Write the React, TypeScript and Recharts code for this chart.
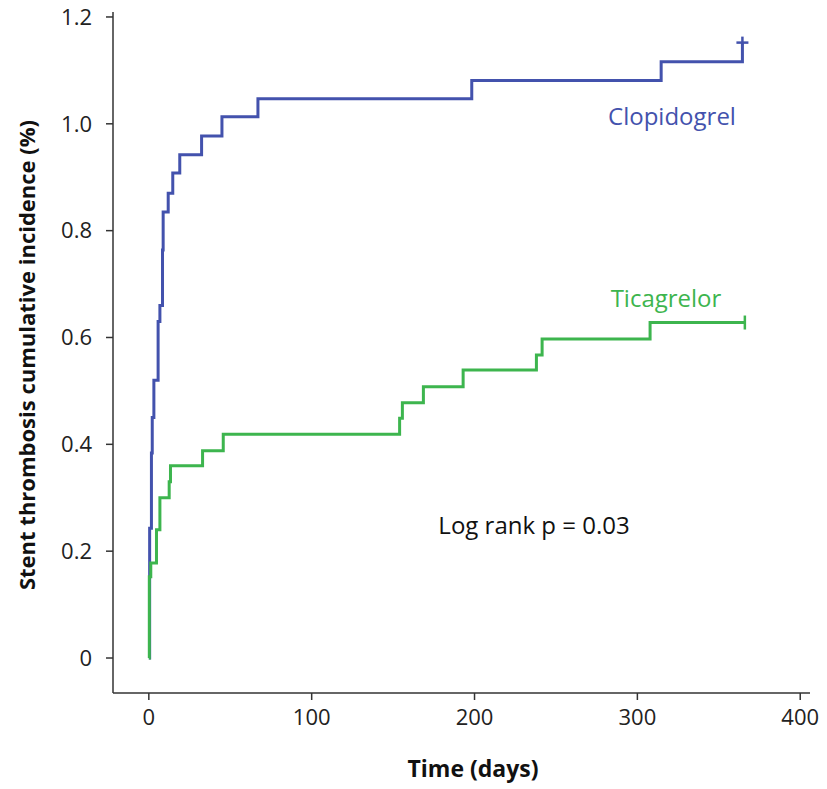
import React from "react";
import { ComposedChart, Line, XAxis, YAxis } from "recharts";

// Kaplan-Meier style cumulative incidence (days, %)
const clopidogrelDays = [0, 0.5, 1.6, 2.1, 3.1, 5.7, 6.8, 8.4, 8.8, 11.9, 14.7, 19, 32.4, 44.9, 67, 198.3, 314.6, 364.5];
const clopidogrelValues = [0, 0.243, 0.384, 0.45, 0.52, 0.63, 0.66, 0.764, 0.835, 0.87, 0.908, 0.942, 0.977, 1.013, 1.047, 1.081, 1.116, 1.152];

const ticagrelorDays = [0, 0.3, 1.2, 4.7, 6.8, 12.5, 13.3, 33, 45.7, 154, 155.7, 168.6, 193, 238, 241.5, 307.8, 366];
const ticagrelorValues = [0, 0.152, 0.178, 0.24, 0.3, 0.33, 0.36, 0.388, 0.419, 0.449, 0.478, 0.508, 0.539, 0.567, 0.597, 0.628, 0.628];

const xTicks = [0, 100, 200, 300, 400];
const yTicks = [0, 0.2, 0.4, 0.6, 0.8, 1.0, 1.2];

const BLUE = "#4352ad";
const GREEN = "#3db54e";
const AXIS = "#333333";
const FONT = "'Open Sans', 'Noto Sans', sans-serif";

const toRows = (days: number[], values: number[]) =>
  days.map((d, i) => ({ day: d, value: values[i] }));

const clopidogrelData = toRows(clopidogrelDays, clopidogrelValues);
const ticagrelorData = toRows(ticagrelorDays, ticagrelorValues);

function censorDot(lastIndex: number, color: string, onTop: boolean) {
  return (props: any) => {
    const { cx, cy, index } = props;
    if (index !== lastIndex || cx == null || cy == null) {
      return <g key={`d-${index}`} />;
    }
    if (onTop) {
      return (
        <g key={`d-${index}`} stroke={color} strokeWidth={2.5}>
          <line x1={cx} y1={cy - 6} x2={cx} y2={cy + 2} />
          <line x1={cx - 6} y1={cy} x2={cx + 6} y2={cy} />
        </g>
      );
    }
    return (
      <g key={`d-${index}`} stroke={color} strokeWidth={2.5}>
        <line x1={cx} y1={cy - 7} x2={cx} y2={cy + 7} />
      </g>
    );
  };
}

const tickStyle = { fontSize: 22, fill: "#222", fontFamily: FONT };

export default function App() {
  return (
    <div style={{ position: "absolute", left: 0, top: 0, width: 827, height: 789, background: "#fff" }}>
      <ComposedChart
        width={827}
        height={789}
        margin={{ top: 12, right: 17, bottom: 0, left: 0 }}
      >
        <XAxis
          type="number"
          dataKey="day"
          domain={[-22, 406]}
          ticks={xTicks}
          allowDataOverflow
          height={96}
          tick={tickStyle}
          tickSize={7}
          tickMargin={9}
          stroke={AXIS}
          strokeWidth={1.5}
        />
        <YAxis
          type="number"
          dataKey="value"
          domain={[-0.0655, 1.2093]}
          ticks={yTicks}
          allowDataOverflow
          width={113}
          tick={tickStyle}
          tickFormatter={(v: number) => (v === 0 ? "0" : v.toFixed(1))}
          tickSize={7}
          tickMargin={14}
          stroke={AXIS}
          strokeWidth={1.5}
        />
        <Line
          data={clopidogrelData}
          dataKey="value"
          type="stepAfter"
          stroke={BLUE}
          strokeWidth={3}
          dot={censorDot(clopidogrelData.length - 1, BLUE, true)}
          activeDot={false}
          isAnimationActive={false}
        />
        <Line
          data={ticagrelorData}
          dataKey="value"
          type="stepAfter"
          stroke={GREEN}
          strokeWidth={3}
          dot={censorDot(ticagrelorData.length - 1, GREEN, false)}
          activeDot={false}
          isAnimationActive={false}
        />
      </ComposedChart>

      <div style={{ position: "absolute", left: 672, top: 115, transform: "translate(-50%, -50%)", fontFamily: FONT, fontSize: 24, color: BLUE, whiteSpace: "nowrap" }}>
        Clopidogrel
      </div>
      <div style={{ position: "absolute", left: 666, top: 297, transform: "translate(-50%, -50%)", fontFamily: FONT, fontSize: 24, color: GREEN, whiteSpace: "nowrap" }}>
        Ticagrelor
      </div>
      <div style={{ position: "absolute", left: 534, top: 524, transform: "translate(-50%, -50%)", fontFamily: FONT, fontSize: 24, color: "#111", whiteSpace: "nowrap" }}>
        Log rank p = 0.03
      </div>
      <div style={{ position: "absolute", left: 473, top: 768, transform: "translate(-50%, -50%)", fontFamily: FONT, fontSize: 23, fontWeight: 700, color: "#111", whiteSpace: "nowrap" }}>
        Time (days)
      </div>
      <div style={{ position: "absolute", left: 26, top: 355, transform: "translate(-50%, -50%) rotate(-90deg)", fontFamily: FONT, fontSize: 22, fontWeight: 700, color: "#111", whiteSpace: "nowrap" }}>
        Stent thrombosis cumulative incidence (%)
      </div>
    </div>
  );
}
